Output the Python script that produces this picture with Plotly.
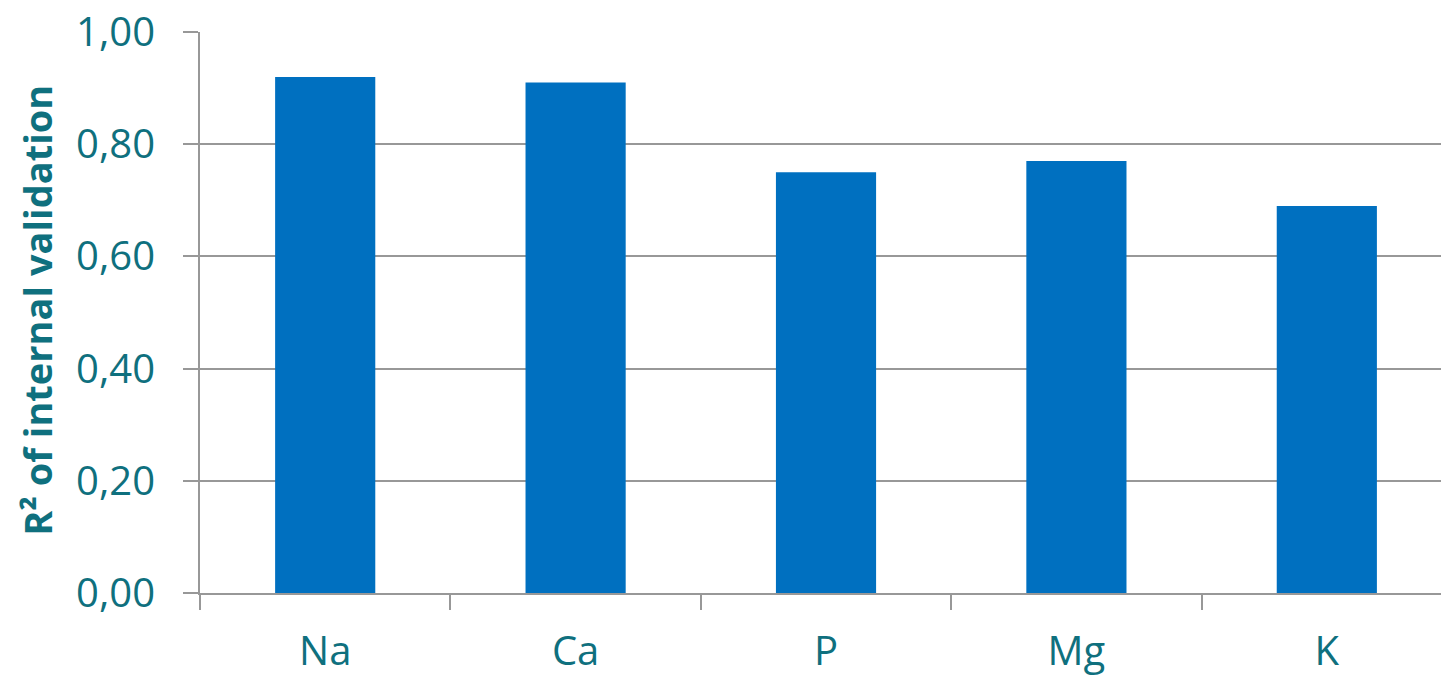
import plotly.graph_objects as go

# R² of internal validation for each element
elements = ["Na", "Ca", "P", "Mg", "K"]
r2_values = [0.92, 0.91, 0.75, 0.77, 0.69]
y_ticks = [0.0, 0.2, 0.4, 0.6, 0.8, 1.0]

TEAL = "#0f707e"
GRID = "#989898"
BAR = "#0070c0"

fig = go.Figure(
    go.Bar(
        x=elements,
        y=r2_values,
        marker=dict(color=BAR, line=dict(width=0)),
        width=0.4,
    )
)

fig.update_layout(
    width=1441,
    height=676,
    margin=dict(l=200, r=0, t=32, b=83),
    paper_bgcolor="white",
    plot_bgcolor="white",
    separators=",.",
    showlegend=False,
    font=dict(family="Open Sans", color=TEAL),
)

fig.update_xaxes(
    type="category",
    range=[-0.5, 4.456],
    tickson="boundaries",
    ticks="outside",
    ticklen=15,
    tickwidth=2,
    tickcolor=GRID,
    showline=True,
    linecolor=GRID,
    linewidth=2,
    showgrid=False,
    tickfont=dict(size=40, color=TEAL),
    ticklabelstandoff=22,
)

fig.update_yaxes(
    range=[0, 1],
    tickvals=y_ticks,
    tickformat=".2f",
    ticks="outside",
    ticklen=15,
    tickwidth=2,
    tickcolor=GRID,
    showline=True,
    linecolor=GRID,
    linewidth=2,
    showgrid=True,
    gridcolor=GRID,
    gridwidth=2,
    zeroline=False,
    tickfont=dict(size=40, color=TEAL),
    ticklabelstandoff=20,
)

fig.add_annotation(
    text="<b>R² of internal validation</b>",
    xref="paper",
    yref="paper",
    x=-0.131,
    y=0.504,
    xanchor="center",
    yanchor="middle",
    textangle=-90,
    showarrow=False,
    font=dict(family="Open Sans", size=38, color=TEAL),
)

fig.write_html("out.html")
